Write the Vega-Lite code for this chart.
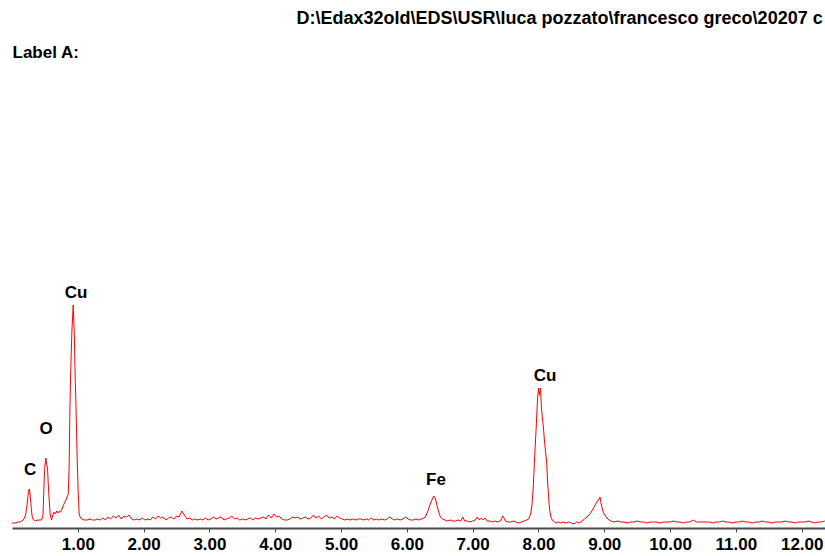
{
  "$schema": "https://vega.github.io/schema/vega-lite/v6.json",
  "width": 813,
  "height": 468,
  "autosize": {"type": "none"},
  "padding": {"left": 12, "top": 60, "right": 0, "bottom": 28},
  "background": "white",
  "config": {
    "view": {"stroke": null},
    "font": "Liberation Sans",
    "axis": {"grid": false}
  },
  "datasets": {
    "spectrum": [
      {"e":0.00,"c":5},{"e":0.03,"c":5},{"e":0.06,"c":5},{"e":0.09,"c":6},{"e":0.12,"c":6},{"e":0.15,"c":7},{"e":0.17,"c":8},{"e":0.19,"c":10},{"e":0.21,"c":14},{"e":0.23,"c":24},{"e":0.245,"c":33},{"e":0.26,"c":39},{"e":0.27,"c":37},{"e":0.28,"c":30},{"e":0.295,"c":18},{"e":0.31,"c":10},{"e":0.33,"c":8},{"e":0.36,"c":7},{"e":0.39,"c":8},{"e":0.42,"c":8},{"e":0.45,"c":8},{"e":0.47,"c":12},{"e":0.48,"c":30},{"e":0.49,"c":50},{"e":0.50,"c":62},{"e":0.515,"c":70},{"e":0.525,"c":64},{"e":0.54,"c":60},{"e":0.55,"c":45},{"e":0.565,"c":28},{"e":0.58,"c":14},{"e":0.60,"c":8},{"e":0.62,"c":13},{"e":0.64,"c":16},{"e":0.66,"c":14},{"e":0.68,"c":17},{"e":0.70,"c":15},{"e":0.72,"c":17},{"e":0.74,"c":16},{"e":0.76,"c":19},{"e":0.79,"c":24},{"e":0.82,"c":28},{"e":0.855,"c":34},{"e":0.868,"c":60},{"e":0.878,"c":110},{"e":0.888,"c":145},{"e":0.90,"c":175},{"e":0.912,"c":200},{"e":0.922,"c":212},{"e":0.93,"c":223},{"e":0.94,"c":205},{"e":0.948,"c":192},{"e":0.96,"c":150},{"e":0.972,"c":124},{"e":0.99,"c":70},{"e":1.005,"c":38},{"e":1.02,"c":14},{"e":1.035,"c":11},
      {"e":1.06,"c":9},{"e":1.10,"c":8},{"e":1.14,"c":8},{"e":1.18,"c":9},{"e":1.22,"c":8},{"e":1.26,"c":8},{"e":1.30,"c":9},{"e":1.34,"c":8},{"e":1.38,"c":10},{"e":1.42,"c":8},{"e":1.46,"c":11},{"e":1.50,"c":9},{"e":1.54,"c":12},{"e":1.58,"c":10},{"e":1.62,"c":13},{"e":1.66,"c":9},{"e":1.70,"c":12},{"e":1.74,"c":11},{"e":1.78,"c":13},{"e":1.82,"c":9},{"e":1.86,"c":8},{"e":1.90,"c":9},{"e":1.94,"c":8},{"e":1.98,"c":10},{"e":2.02,"c":8},{"e":2.06,"c":9},{"e":2.10,"c":8},{"e":2.14,"c":11},{"e":2.18,"c":9},{"e":2.22,"c":12},{"e":2.26,"c":10},{"e":2.30,"c":11},{"e":2.34,"c":8},{"e":2.38,"c":10},{"e":2.42,"c":11},{"e":2.46,"c":9},{"e":2.50,"c":12},{"e":2.54,"c":11},{"e":2.58,"c":17},{"e":2.62,"c":13},{"e":2.66,"c":9},{"e":2.70,"c":10},{"e":2.74,"c":8},{"e":2.78,"c":9},{"e":2.82,"c":8},{"e":2.86,"c":9},{"e":2.90,"c":8},{"e":2.94,"c":10},{"e":2.98,"c":8},{"e":3.02,"c":9},{"e":3.06,"c":11},{"e":3.10,"c":9},{"e":3.14,"c":10},{"e":3.18,"c":11},{"e":3.22,"c":8},{"e":3.26,"c":9},{"e":3.30,"c":10},{"e":3.34,"c":12},{"e":3.38,"c":9},{"e":3.42,"c":10},{"e":3.46,"c":8},{"e":3.50,"c":9},{"e":3.54,"c":8},{"e":3.58,"c":9},{"e":3.62,"c":10},{"e":3.66,"c":8},{"e":3.70,"c":10},{"e":3.74,"c":9},{"e":3.78,"c":10},{"e":3.82,"c":11},{"e":3.86,"c":9},{"e":3.90,"c":13},{"e":3.94,"c":10},{"e":3.98,"c":14},{"e":4.02,"c":11},{"e":4.06,"c":12},{"e":4.10,"c":9},{"e":4.14,"c":8},{"e":4.18,"c":8},{"e":4.22,"c":9},{"e":4.26,"c":11},{"e":4.30,"c":10},{"e":4.34,"c":11},{"e":4.38,"c":9},{"e":4.42,"c":10},{"e":4.46,"c":11},{"e":4.50,"c":9},{"e":4.54,"c":10},{"e":4.58,"c":13},{"e":4.62,"c":10},{"e":4.66,"c":12},{"e":4.70,"c":9},{"e":4.74,"c":11},{"e":4.78,"c":13},{"e":4.82,"c":10},{"e":4.86,"c":11},{"e":4.90,"c":9},{"e":4.94,"c":12},{"e":4.98,"c":10},{"e":5.02,"c":9},{"e":5.06,"c":8},{"e":5.10,"c":9},{"e":5.14,"c":8},{"e":5.18,"c":9},{"e":5.22,"c":8},{"e":5.26,"c":9},{"e":5.30,"c":9},{"e":5.34,"c":8},{"e":5.38,"c":9},{"e":5.42,"c":8},{"e":5.46,"c":10},{"e":5.50,"c":8},{"e":5.54,"c":9},{"e":5.58,"c":8},{"e":5.62,"c":9},{"e":5.66,"c":8},{"e":5.70,"c":9},{"e":5.74,"c":11},{"e":5.78,"c":9},{"e":5.82,"c":8},{"e":5.86,"c":9},{"e":5.90,"c":8},{"e":5.94,"c":9},{"e":5.98,"c":11},{"e":6.02,"c":9},{"e":6.06,"c":8},{"e":6.10,"c":8},{"e":6.14,"c":9},{"e":6.18,"c":8},
      {"e":6.22,"c":9},{"e":6.26,"c":10},{"e":6.29,"c":12},{"e":6.32,"c":17},{"e":6.35,"c":23},{"e":6.38,"c":28},{"e":6.41,"c":32},{"e":6.43,"c":30},{"e":6.45,"c":25},{"e":6.48,"c":17},{"e":6.51,"c":11},{"e":6.54,"c":9},{"e":6.58,"c":8},
      {"e":6.62,"c":7},{"e":6.66,"c":8},{"e":6.70,"c":7},{"e":6.74,"c":7},{"e":6.78,"c":8},{"e":6.82,"c":7},{"e":6.85,"c":11},{"e":6.88,"c":7},{"e":6.92,"c":7},{"e":6.96,"c":6},{"e":7.00,"c":7},{"e":7.04,"c":8},{"e":7.07,"c":11},{"e":7.10,"c":8},{"e":7.13,"c":10},{"e":7.16,"c":8},{"e":7.19,"c":10},{"e":7.22,"c":7},{"e":7.26,"c":7},{"e":7.30,"c":6},{"e":7.34,"c":7},{"e":7.38,"c":6},{"e":7.42,"c":7},{"e":7.46,"c":12},{"e":7.50,"c":7},{"e":7.54,"c":6},{"e":7.58,"c":6},{"e":7.62,"c":7},{"e":7.66,"c":6},{"e":7.70,"c":5},{"e":7.74,"c":6},{"e":7.78,"c":7},{"e":7.82,"c":8},
      {"e":7.85,"c":9},{"e":7.88,"c":14},{"e":7.90,"c":22},{"e":7.92,"c":40},{"e":7.945,"c":75},{"e":7.965,"c":100},{"e":7.985,"c":128},{"e":8.00,"c":140},{"e":8.015,"c":133},{"e":8.03,"c":140},{"e":8.045,"c":120},{"e":8.06,"c":110},{"e":8.075,"c":101},{"e":8.09,"c":88},{"e":8.105,"c":78},{"e":8.125,"c":65},{"e":8.14,"c":45},{"e":8.155,"c":30},{"e":8.17,"c":18},{"e":8.19,"c":11},{"e":8.21,"c":8},{"e":8.24,"c":6},{"e":8.27,"c":5},
      {"e":8.30,"c":6},{"e":8.34,"c":5},{"e":8.38,"c":6},{"e":8.42,"c":5},{"e":8.46,"c":6},{"e":8.50,"c":5},{"e":8.54,"c":4},{"e":8.58,"c":6},{"e":8.62,"c":5},{"e":8.66,"c":7},{"e":8.70,"c":9},
      {"e":8.74,"c":11},{"e":8.78,"c":14},{"e":8.82,"c":18},{"e":8.86,"c":23},{"e":8.89,"c":26},{"e":8.91,"c":28},{"e":8.935,"c":31},{"e":8.95,"c":25},{"e":8.97,"c":19},{"e":8.99,"c":15},{"e":9.01,"c":13},{"e":9.04,"c":10},{"e":9.07,"c":8},{"e":9.10,"c":7},
      {"e":9.15,"c":6},{"e":9.20,"c":7},{"e":9.25,"c":6},{"e":9.30,"c":6},{"e":9.35,"c":5},{"e":9.40,"c":6},{"e":9.45,"c":6},{"e":9.50,"c":7},{"e":9.55,"c":6},{"e":9.60,"c":6},{"e":9.65,"c":5},{"e":9.70,"c":6},{"e":9.75,"c":6},{"e":9.80,"c":6},{"e":9.85,"c":5},{"e":9.90,"c":6},{"e":9.95,"c":6},{"e":10.00,"c":6},{"e":10.05,"c":7},{"e":10.10,"c":6},{"e":10.15,"c":6},{"e":10.20,"c":5},{"e":10.25,"c":6},{"e":10.30,"c":6},{"e":10.35,"c":8},{"e":10.40,"c":6},{"e":10.45,"c":6},{"e":10.50,"c":6},{"e":10.55,"c":6},{"e":10.60,"c":6},{"e":10.65,"c":5},{"e":10.70,"c":6},{"e":10.75,"c":6},{"e":10.80,"c":7},{"e":10.85,"c":6},{"e":10.90,"c":6},{"e":10.95,"c":5},{"e":11.00,"c":6},{"e":11.05,"c":6},{"e":11.10,"c":7},{"e":11.15,"c":6},{"e":11.20,"c":6},{"e":11.25,"c":5},{"e":11.30,"c":6},{"e":11.35,"c":6},{"e":11.40,"c":7},{"e":11.45,"c":6},{"e":11.50,"c":6},{"e":11.55,"c":5},{"e":11.60,"c":6},{"e":11.65,"c":6},{"e":11.70,"c":6},{"e":11.75,"c":7},{"e":11.80,"c":6},{"e":11.85,"c":6},{"e":11.90,"c":5},{"e":11.95,"c":6},{"e":12.00,"c":6},{"e":12.05,"c":6},{"e":12.10,"c":7},{"e":12.15,"c":6},{"e":12.20,"c":5},{"e":12.25,"c":6},{"e":12.30,"c":6},{"e":12.35,"c":7}
    ],
    "peaks": [
      {"e":0.274,"c":58,"t":"C"},
      {"e":0.52,"c":99,"t":"O"},
      {"e":0.973,"c":235,"t":"Cu"},
      {"e":6.443,"c":48,"t":"Fe"},
      {"e":8.1,"c":152,"t":"Cu"}
    ]
  },
  "layer": [
    {
      "data": {"name": "spectrum"},
      "mark": {"type": "line", "color": "#ff0000", "strokeWidth": 1, "interpolate": "linear"},
      "encoding": {
        "x": {
          "field": "e", "type": "quantitative",
          "scale": {"domain": [0, 12.354], "nice": false, "zero": false},
          "axis": {
            "orient": "bottom", "title": null,
            "values": [1,2,3,4,5,6,7,8,9,10,11,12],
            "format": ".2f",
            "labelFont": "Liberation Sans", "labelFontWeight": "bold", "labelFontSize": 17, "labelColor": "#000000",
            "labelPadding": 4, "labelFlush": false, "labelOverlap": false, "labelBound": false,
            "domainColor": "#4a4a4a", "domainWidth": 2, "tickColor": "#4a4a4a", "tickSize": 4, "tickWidth": 1
          }
        },
        "y": {
          "field": "c", "type": "quantitative",
          "scale": {"domain": [0, 468], "nice": false},
          "axis": {
            "orient": "left", "domain": false, "ticks": false, "labels": false,
            "title": "Label A:", "titleAngle": 0, "titleX": 0, "titleY": -3,
            "titleAlign": "left", "titleBaseline": "alphabetic",
            "titleFont": "Liberation Sans", "titleFontWeight": "bold", "titleFontSize": 17, "titleColor": "#000000"
          }
        }
      }
    },
    {
      "data": {"name": "peaks"},
      "mark": {"type": "text", "font": "Liberation Sans", "fontWeight": "bold", "fontSize": 17, "color": "#000000", "align": "center", "baseline": "middle"},
      "encoding": {
        "x": {
          "field": "e", "type": "quantitative",
          "scale": {"domain": [0, 12.354], "nice": false, "zero": false},
          "axis": {
            "orient": "top", "domain": false, "ticks": false, "labels": false,
            "title": "D:\\Edax32old\\EDS\\USR\\luca pozzato\\francesco greco\\20207 c",
            "titleX": 284, "titleY": -37, "titleAlign": "left", "titleBaseline": "alphabetic",
            "titleFont": "Liberation Sans", "titleFontWeight": "bold", "titleFontSize": 18, "titleColor": "#000000"
          }
        },
        "y": {
          "field": "c", "type": "quantitative",
          "scale": {"domain": [0, 468], "nice": false},
          "axis": {
            "orient": "left", "domain": false, "ticks": false, "labels": false,
            "title": "Label A:", "titleAngle": 0, "titleX": 0, "titleY": -3,
            "titleAlign": "left", "titleBaseline": "alphabetic",
            "titleFont": "Liberation Sans", "titleFontWeight": "bold", "titleFontSize": 17, "titleColor": "#000000"
          }
        },
        "text": {"field": "t"}
      }
    }
  ],
  "resolve": {"axis": {"x": "independent"}}
}
